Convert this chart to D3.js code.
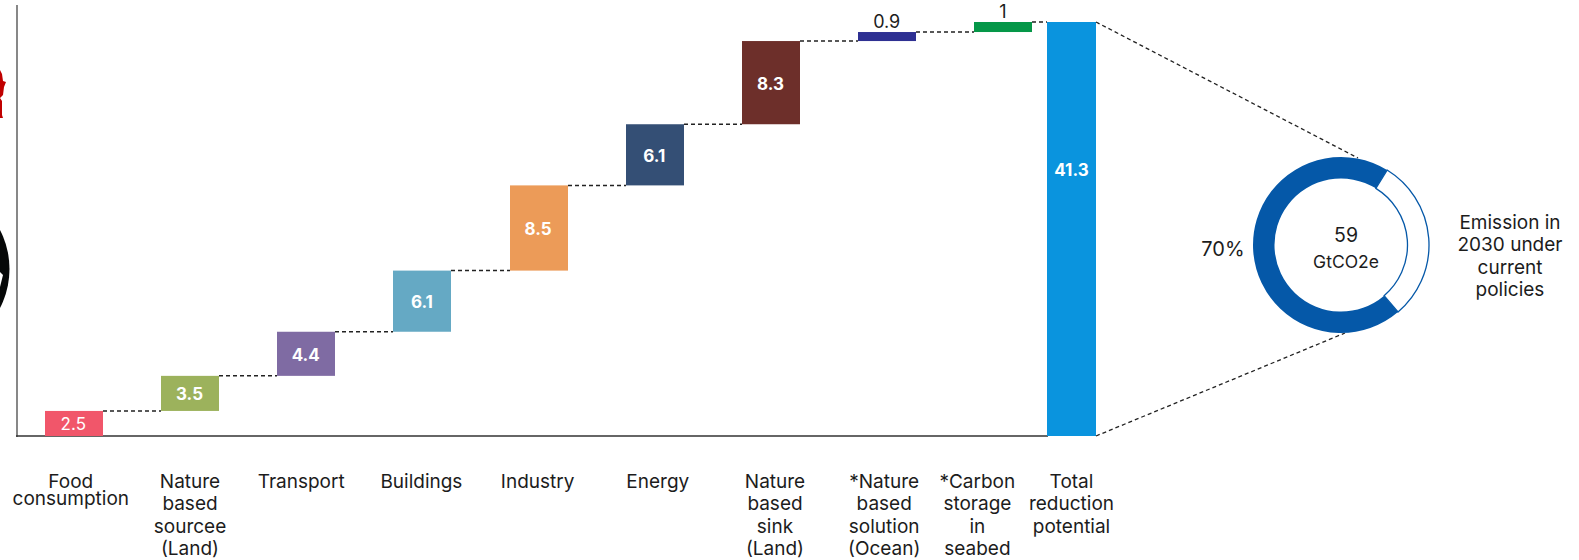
<!DOCTYPE html>
<html>
<head>
<meta charset="utf-8">
<style>
  html, body { margin: 0; padding: 0; background: #fff; }
  svg { display: block; }
  text { font-family: Inter, "Open Sans", sans-serif; fill: #1c1c1c; }
</style>
<script src="https://cdn.jsdelivr.net/npm/d3@7"></script>
</head>
<body>
<svg id="chart" width="1579" height="560"></svg>
<script>
// Emission reduction potential by sector, GtCO2e
const categoryLines = [
  ["Food", "consumption"],
  ["Nature", "based", "sourcee", "(Land)"],
  ["Transport"],
  ["Buildings"],
  ["Industry"],
  ["Energy"],
  ["Nature", "based", "sink", "(Land)"],
  ["*Nature", "based", "solution", "(Ocean)"],
  ["*Carbon", "storage", "in", "seabed"],
  ["Total", "reduction", "potential"]
];
const stepValues = [2.5, 3.5, 4.4, 6.1, 8.5, 6.1, 8.3, 0.9, 1];
const stepLabels = ["2.5", "3.5", "4.4", "6.1", "8.5", "6.1", "8.3", "0.9", "1"];
const totalValue = 41.3;
const totalLabel = "41.3";
const barColors = ["#f1566a", "#9cb25c", "#7f6ba3", "#65a9c4", "#ec9b58", "#344f75", "#6d2f2a", "#2e3092", "#059748", "#0a94de"];

// Share of 2030 emissions under current policies
const donutShares = [70, 30];
const donutCentre = ["59", "GtCO2e"];
const donutShareLabel = "70%";
const donutNote = ["Emission in", "2030 under", "current", "policies"];

const svg = d3.select("#chart");

const y = d3.scaleLinear().domain([0, totalValue]).range([436, 22]);
const xCentre = d3.scaleLinear().domain([0, 8, 9]).range([73.8, 1003.4, 1071.5]);
const stepWidth = 58, totalWidth = 49;

// Waterfall segments: each step starts where the previous one ended
const ends = d3.cumsum(stepValues);
const segments = stepValues.map((v, i) => ({
  i, from: i ? ends[i - 1] : 0, to: ends[i], label: stepLabels[i], w: stepWidth
}));
segments.push({ i: 9, from: 0, to: totalValue, label: totalLabel, w: totalWidth });
const barLeft = d => Math.round(xCentre(d.i) - d.w / 2);

// Axis lines
svg.append("line").attr("x1", 17).attr("x2", 17).attr("y1", 5).attr("y2", 437)
  .attr("stroke", "#6a6a6a").attr("stroke-width", 1.6);
svg.append("line").attr("x1", 16).attr("x2", 1048).attr("y1", y(0)).attr("y2", y(0))
  .attr("stroke", "#333").attr("stroke-width", 1.4);

// Connectors between neighbouring segments
const dash = "4 3";
svg.append("g").selectAll("line").data(segments.slice(0, -1)).join("line")
  .attr("x1", d => barLeft(d) + d.w)
  .attr("x2", d => barLeft(segments[d.i + 1]))
  .attr("y1", d => y(d.to)).attr("y2", d => y(d.to))
  .attr("stroke", "#222").attr("stroke-width", 1.5).attr("stroke-dasharray", dash);

// Bars
svg.append("g").selectAll("rect").data(segments).join("rect")
  .attr("x", barLeft)
  .attr("width", d => d.w)
  .attr("y", d => y(d.to))
  .attr("height", d => y(d.from) - y(d.to))
  .attr("fill", d => barColors[d.i]);

// Value labels: thin bars carry theirs above, the total sits high in its column
const valueStyle = {
  0: { weight: 400 },
  7: { weight: 400, above: true, color: "#1c1c1c" },
  8: { weight: 400, above: true, color: "#1c1c1c" },
  9: { weight: 700, atValue: 26.6 }
};
svg.append("g").selectAll("text").data(segments).join("text")
  .attr("x", d => xCentre(d.i) - (d.i === 9 ? 0 : 0.5))
  .attr("y", d => {
    const s = valueStyle[d.i] || {};
    if (s.above) return y(d.to) - 4;
    if (s.atValue) return y(s.atValue) + 7;
    return y((d.from + d.to) / 2) + 7;
  })
  .attr("text-anchor", "middle")
  .attr("font-size", d => (valueStyle[d.i] || {}).above ? 18 : 17)
  .attr("font-weight", d => (valueStyle[d.i] || { weight: 700 }).weight)
  .style("fill", d => (valueStyle[d.i] || {}).color || "#fff")
  .text(d => d.label);

// Category labels
const labelShift = [-3, 0, -5, -1, -1, 3, 4, -3, -26, 0];
const cat = svg.append("g").selectAll("text").data(categoryLines).join("text")
  .attr("text-anchor", "middle").attr("font-size", 19);
cat.selectAll("tspan").data((lines, i) => lines.map((t, k) => ({ t, k, i }))).join("tspan")
  .attr("x", d => xCentre(d.i) + labelShift[d.i])
  .attr("y", d => 488 + d.k * (d.i === 0 ? 17 : 22.4))
  .text(d => d.t);

// Lines fanning out from the total column to the donut
const fan = [[1096, 22, 1358, 158], [1096, 436, 1345, 333]];
svg.append("g").selectAll("line").data(fan).join("line")
  .attr("x1", d => d[0]).attr("y1", d => d[1]).attr("x2", d => d[2]).attr("y2", d => d[3])
  .attr("stroke", "#222").attr("stroke-width", 1.3).attr("stroke-dasharray", dash);

// Donut
const donut = svg.append("g").attr("transform", "translate(1341,245)");
const startDeg = 139.6;
const pie = d3.pie().sort(null)
  .startAngle(startDeg * Math.PI / 180)
  .endAngle((startDeg + 360) * Math.PI / 180);
const ring = d3.arc().innerRadius(66.5).outerRadius(88);
donut.selectAll("path").data(pie(donutShares)).join("path")
  .attr("d", ring)
  .attr("fill", (d, i) => i === 0 ? "#0558a8" : "#fff")
  .attr("stroke", "#0558a8")
  .attr("stroke-width", (d, i) => i === 0 ? 0 : 1.3);

donut.selectAll("text").data(donutCentre).join("text")
  .attr("x", 5)
  .attr("text-anchor", "middle")
  .attr("y", (d, i) => -3 + i * 26)
  .attr("font-size", (d, i) => i === 0 ? 19.5 : 17.5)
  .text(d => d);

svg.append("text").attr("x", 1223).attr("y", 256)
  .attr("text-anchor", "middle").attr("font-size", 20).text(donutShareLabel);

svg.append("text").attr("text-anchor", "middle").attr("font-size", 19)
  .selectAll("tspan").data(donutNote).join("tspan")
  .attr("x", 1510)
  .attr("y", (d, i) => 229 + i * 22.3)
  .text(d => d);

// Emblems cropped by the left edge of the page
svg.append("circle").attr("cx", -75.3).attr("cy", 269).attr("r", 84.8).attr("fill", "#060808");
svg.append("path").attr("d", d3.line()([[0, 272], [3, 275], [0, 287]])).attr("fill", "#fff");
svg.append("path")
  .attr("d", d3.line()([[0, 70], [2, 74], [3, 81], [6, 82], [4, 87], [3, 95], [0, 98], [2, 101], [2, 115], [3, 118], [0, 118]]))
  .attr("fill", "#c00000");
</script>
</body>
</html>
